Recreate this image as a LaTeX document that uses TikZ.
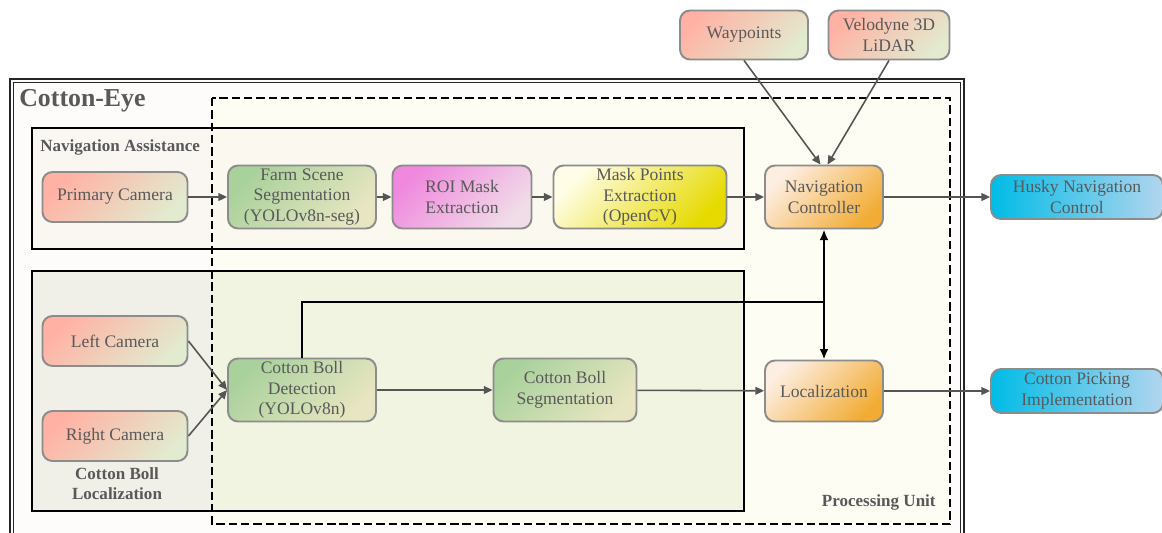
\documentclass[tikz,border=0pt]{standalone}
\usepackage{fontspec}
\setmainfont{Liberation Serif}
\usetikzlibrary{arrows.meta}

% colours
\definecolor{txtgray}{HTML}{595959}
\definecolor{boxline}{HTML}{8C8C8C}
\definecolor{arrgray}{HTML}{555555}
\definecolor{frameback}{HTML}{FDFCFA}
\definecolor{unitback}{HTML}{FEFDF3}
\definecolor{navback}{HTML}{FAF7F3}
\definecolor{navmix}{HTML}{FBF8EF}
\definecolor{locback}{HTML}{F0F0E9}
\definecolor{locmix}{HTML}{F1F4E1}
\definecolor{camA}{HTML}{FFB2A4}
\definecolor{camB}{HTML}{E2EACF}
\definecolor{grnA}{HTML}{A9D19C}
\definecolor{grnB}{HTML}{E8E6C2}
\definecolor{roiA}{HTML}{F088DE}
\definecolor{roiB}{HTML}{F0DDE8}
\definecolor{mskA}{HTML}{FFFDE6}
\definecolor{mskB}{HTML}{E6DA00}
\definecolor{ctlA}{HTML}{FDEEE2}
\definecolor{ctlB}{HTML}{F2AC36}
\definecolor{outA}{HTML}{00BCE6}
\definecolor{outB}{HTML}{B2D5EE}

\tikzset{
  box/.style={draw=boxline, line width=1.1pt, rounded corners=0.2cm, align=center,
    text=txtgray, inner sep=0pt, font=\fontsize{10}{11.8}\selectfont},
  camfill/.style={top color=camA, bottom color=camB, shading angle=45},
  grnfill/.style={top color=grnA, bottom color=grnB, shading angle=45},
  roifill/.style={top color=roiA, bottom color=roiB, shading angle=45},
  mskfill/.style={top color=mskA, bottom color=mskB, shading angle=45},
  ctlfill/.style={top color=ctlA, bottom color=ctlB, shading angle=45},
  outfill/.style={left color=outA, right color=outB},
  flow/.style={draw=arrgray, line width=0.9pt, -{Triangle[length=5pt,width=4.5pt]}},
  link/.style={draw=black, line width=1.6pt},
  secline/.style={draw=black, line width=1.2pt},
  seclabel/.style={text=txtgray, font=\bfseries\fontsize{9.7}{11.5}\selectfont, align=center, inner sep=0pt},
}

\begin{document}
\begin{tikzpicture}[x=0.02cm, y=-0.02cm]
\clip (0,0) rectangle (1162,532);

% Backgrounds
\fill[frameback] (11,80) rectangle (963,545);
\fill[unitback] (212,98) rectangle (950,524);
\fill[navback] (32,128) rectangle (744,249);
\fill[locback] (32,271) rectangle (744,511);
\begin{scope}
\clip (212,98) rectangle (950,524);
\fill[navmix] (32,128) rectangle (744,249);
\fill[locmix] (32,271) rectangle (744,511);
\end{scope}

% Frames
\draw[secline] (32,128) rectangle (744,249);
\draw[secline] (32,271) rectangle (744,511);
\draw[black, line width=1.4pt, dash pattern=on 4.8pt off 2.2pt] (212,98) rectangle (950,524);
\draw[black!85, line width=1.1pt] (10,79) rectangle (964,545);
\draw[black!85, line width=0.7pt] (13.5,82.5) rectangle (960.5,545);

% Labels
\node[anchor=west, text=txtgray, font=\bfseries\fontsize{14.7}{16}\selectfont, inner sep=0pt] (eye) at (19,101) {Cotton-Eye};
\node[seclabel, anchor=west] (navlbl) at (40,147) {Navigation Assistance};
\node[seclabel] (loclbl) at (117,484) {Cotton Boll\\Localization};
\node[seclabel, anchor=east] (unitlbl) at (936,502) {Processing Unit};

% Navigation chain
\node[box, camfill, minimum width=2.9cm, minimum height=1cm] (primary) at (115,197) {Primary Camera};
\node[box, grnfill, minimum width=2.96cm, minimum height=1.26cm] (farm) at (302,197) {Farm Scene\\Segmentation\\(YOLOv8n-seg)};
\node[box, roifill, minimum width=2.78cm, minimum height=1.26cm] (roi) at (462,197) {ROI Mask\\Extraction};
\node[box, mskfill, minimum width=3.46cm, minimum height=1.26cm] (maskpts) at (640,197) {Mask Points\\Extraction\\(OpenCV)};
\node[box, ctlfill, minimum width=2.36cm, minimum height=1.26cm] (navctl) at (824,197) {Navigation\\Controller};
\node[box, camfill, minimum width=2.56cm, minimum height=0.98cm] (waypts) at (744,35) {Waypoints};
\node[box, camfill, minimum width=2.42cm, minimum height=0.98cm] (lidar) at (889,35) {Velodyne 3D\\LiDAR};
\node[box, outfill, minimum width=3.44cm, minimum height=0.88cm] (husky) at (1077,197) {Husky Navigation\\Control};

% Cotton boll chain
\node[box, camfill, minimum width=2.9cm, minimum height=1cm] (leftcam) at (115,341) {Left Camera};
\node[box, camfill, minimum width=2.9cm, minimum height=1cm] (rightcam) at (115,436) {Right Camera};
\node[box, grnfill, minimum width=2.96cm, minimum height=1.26cm] (detect) at (302,390) {Cotton Boll\\Detection\\(YOLOv8n)};
\node[box, grnfill, minimum width=2.86cm, minimum height=1.26cm] (segment) at (565,390) {Cotton Boll\\Segmentation};
\node[box, ctlfill, minimum width=2.36cm, minimum height=1.22cm] (localize) at (824,391) {Localization};
\node[box, outfill, minimum width=3.44cm, minimum height=0.88cm] (picking) at (1077,391) {Cotton Picking\\Implementation};

% Arrows
\draw[flow] (primary) -- (farm);
\draw[flow] (farm) -- (roi);
\draw[flow] (roi) -- (maskpts);
\draw[flow] (maskpts) -- (navctl);
\draw[flow] (navctl) -- (husky);
\draw[flow] (waypts.south) -- ([xshift=-2pt]navctl.north);
\draw[flow] (lidar.south) -- ([xshift=2pt]navctl.north);
\draw[flow] (leftcam.east) -- (detect.west);
\draw[flow] (rightcam.east) -- (detect.west);
\draw[flow] (detect) -- (segment);
\draw[flow] (segment) -- (localize);
\draw[flow] (localize) -- (picking);

% Detection feedback
\coordinate (junct) at (824,302);
\draw[link] (detect.north) |- (junct);
\draw[link, {Latex[length=6pt,width=5pt]}-{Latex[length=6pt,width=5pt]}] (navctl.south) -- (localize.north);
\end{tikzpicture}
\end{document}
